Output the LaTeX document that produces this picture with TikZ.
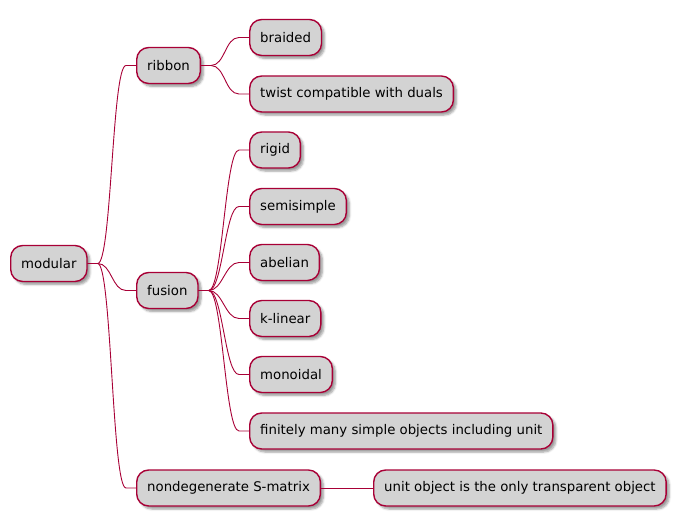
\documentclass[tikz,border=0pt]{standalone}
\usepackage{fontspec}
\setmainfont{DejaVu Sans}
\usetikzlibrary{shadows.blur}
\definecolor{edgered}{HTML}{A80036}
\definecolor{boxgray}{HTML}{D3D3D3}
\tikzset{
	topic/.style={draw=edgered,fill=boxgray,line width=1.4pt,rounded corners=12pt,minimum height=36pt,inner xsep=10.5pt,anchor=west,
		blur shadow={shadow xshift=3pt,shadow yshift=-3pt,shadow blur steps=5,shadow opacity=40}},
	branch/.style={edgered,line width=0.9pt,to path={-- ++(10,0) .. controls +(14,0) and +(-14,0) .. ([xshift=-10pt]\tikztotarget) -- (\tikztotarget)}}
}
\begin{document}
\begin{tikzpicture}[x=1pt,y=-1pt,font=\fontsize{13.3}{16}\selectfont]
	\useasboundingbox (0,0) rectangle (681,516);
	\node[topic] (modular) at (10,263.5) {modular};
	\node[topic] (ribbon) at (136,65.5) {ribbon};
	\node[topic] (fusion) at (136,290.5) {fusion};
	\node[topic] (smatrix) at (136,488) {nondegenerate S-matrix};
	\node[topic] (braided) at (249,37.5) {braided};
	\node[topic] (twist) at (249,94) {twist compatible with duals};
	\node[topic] (rigid) at (249,150) {rigid};
	\node[topic] (semisimple) at (249,206.5) {semisimple};
	\node[topic] (abelian) at (249,262.5) {abelian};
	\node[topic] (klinear) at (249,318.5) {k-linear};
	\node[topic] (monoidal) at (249,374.5) {monoidal};
	\node[topic] (finitely) at (249,431) {finitely many simple objects including unit};
	\node[topic] (unitobj) at (373,488) {unit object is the only transparent object};
	\foreach \c in {ribbon,fusion,smatrix}
		\draw[branch] (modular.east) to (\c.west);
	\foreach \c in {braided,twist}
		\draw[branch] (ribbon.east) to (\c.west);
	\foreach \c in {rigid,semisimple,abelian,klinear,monoidal,finitely}
		\draw[branch] (fusion.east) to (\c.west);
	\draw[edgered,line width=0.9pt] (smatrix.east) -- (unitobj.west);
\end{tikzpicture}
\end{document}
